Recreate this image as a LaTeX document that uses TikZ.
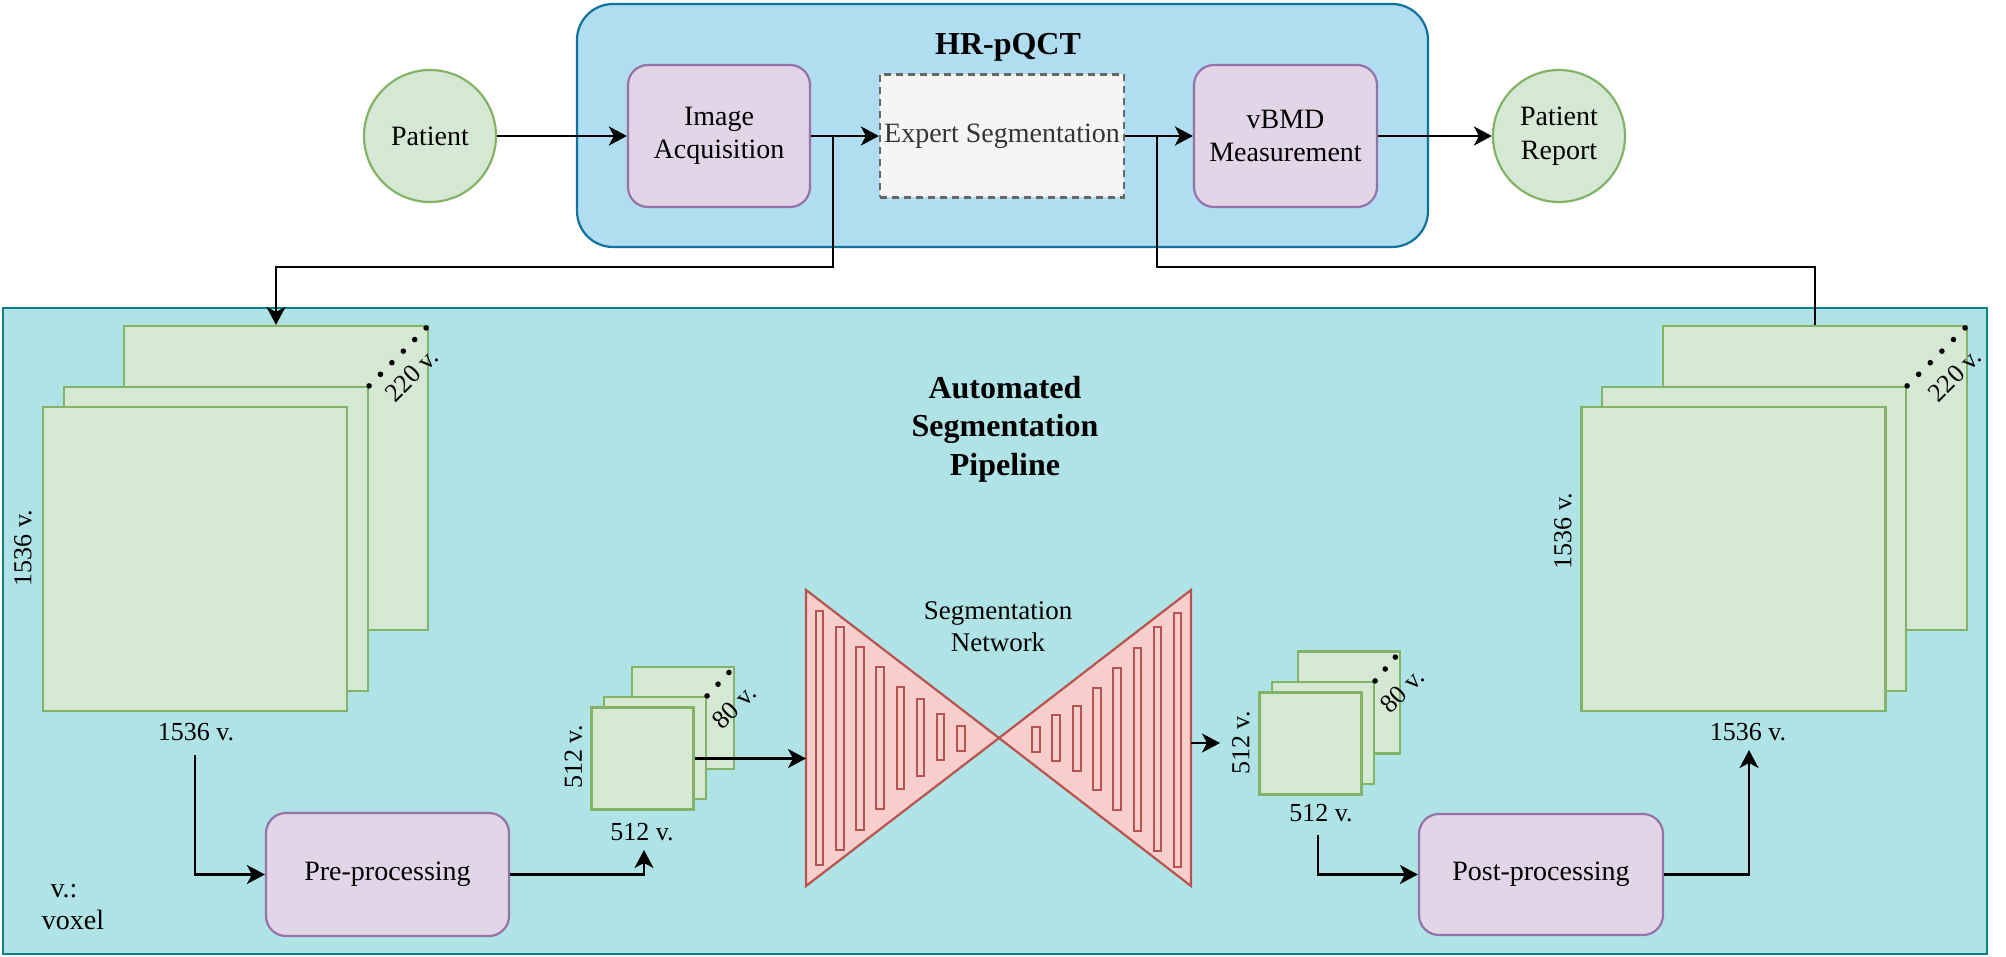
\documentclass[tikz,border=0pt]{standalone}
\usepackage{fontspec}
\setmainfont{Liberation Serif}
\usetikzlibrary{arrows.meta,calc}
\definecolor{grnF}{HTML}{D5E8D4}
\definecolor{grnD}{HTML}{82B366}
\definecolor{purF}{HTML}{E1D5E7}
\definecolor{purD}{HTML}{9673A6}
\definecolor{bluF}{HTML}{B1DDF0}
\definecolor{bluD}{HTML}{10739E}
\definecolor{tealF}{HTML}{B0E3E6}
\definecolor{tealD}{HTML}{0E8088}
\definecolor{redF}{HTML}{F8CECC}
\definecolor{redD}{HTML}{B85450}
\definecolor{gryF}{HTML}{F5F5F5}
\definecolor{gryD}{HTML}{666666}
\definecolor{gryT}{HTML}{333333}
\begin{document}
\begin{tikzpicture}[x=1pt,y=-1pt,
  txt/.style={font=\fontsize{28}{33.6}\selectfont, align=center, inner sep=0pt},
  lbl/.style={font=\fontsize{26}{31}\selectfont, inner sep=0pt},
  ttl/.style={font=\fontsize{32}{38.4}\selectfont\bfseries, align=center, inner sep=0pt},
  circ/.style={circle, draw=grnD, fill=grnF, line width=2.2pt, minimum size=132pt, txt},
  proc/.style={rectangle, rounded corners=20pt, draw=purD, fill=purF, line width=2.2pt, txt},
  expertbox/.style={rectangle, draw=gryD, fill=gryF, dash pattern=on 7pt off 5pt, line width=2.2pt, text=gryT, txt},
  sheet/.style={rectangle, draw=grnD, fill=grnF, line width=2.2pt, inner sep=0pt},
  bigsheet/.style={sheet, minimum size=304pt},
  smallsheet/.style={sheet, minimum size=102pt},
  bar/.style={draw=redD, fill=redF, line width=2pt},
  tri/.style={draw=redD, fill=redF, line width=2.2pt, line join=miter},
  conn/.style={line width=2.4pt, draw=black},
  arr/.style={conn, -{Stealth[length=18pt,width=19pt,inset=5pt]}},
]
\useasboundingbox (0,0) rectangle (2006,957);

% containers
\node[draw=tealD, fill=tealF, line width=2.2pt, minimum width=1984pt, minimum height=646pt, inner sep=0pt] (pipe) at (995,631) {};
\node[draw=bluD, fill=bluF, line width=2.2pt, rounded corners=36pt, minimum width=851pt, minimum height=243pt, inner sep=0pt] (hr) at (1002.5,125.5) {};
\node[ttl] (hrt) at (1008,47) {HR-pQCT};
\node[ttl] (pt) at (1005,429) {Automated\\Segmentation\\Pipeline};

% top row
\node[circ] (patient) at (430,136) {Patient};
\node[circ] (report) at (1559,136) {Patient\\Report};
\node[proc, minimum width=182pt, minimum height=142pt] (iacq) at (719,136) {Image\\Acquisition};
\node[expertbox, minimum width=244pt, minimum height=123pt] (expert) at (1002,136) {Expert Segmentation};
\node[proc, minimum width=183pt, minimum height=142pt] (vbmd) at (1285.5,136) {vBMD\\Measurement};

% left big stack
\node[bigsheet] (lback) at (276,478) {};
\node[bigsheet] (lmid) at (216,539) {};
\node[bigsheet] (lfront) at (195,559) {};
\foreach \i in {0,...,5} \fill[black] ($(lmid.north east)!\i*0.19!(lback.north east)$) circle (2.8pt);
\node[lbl, rotate=90] (lside) at (23,548) {1536 v.};
\node[lbl] (lbot) at (196,732) {1536 v.};
\node[lbl, rotate=45] (ldep) at (412,375) {220 v.};

% right big stack
\node[bigsheet] (rback) at (1815,478) {};
\node[bigsheet] (rmid) at (1754,539) {};
\node[bigsheet] (rfront) at (1733.5,559) {};
\foreach \i in {0,...,5} \fill[black] ($(rmid.north east)!\i*0.19!(rback.north east)$) circle (2.8pt);
\node[lbl, rotate=90] (rside) at (1563,531) {1536 v.};
\node[lbl] (rbot) at (1748,732) {1536 v.};
\node[lbl, rotate=45] (rdep) at (1955,375) {220 v.};

% left small stack
\node[smallsheet] (lsback) at (683,718) {};
\node[smallsheet] (lsmid) at (655,748) {};
\node[smallsheet] (lsfront) at (642.5,758.5) {};
\foreach \i in {0,1,2} \fill[black] ($(lsmid.north east)!\i*0.39!(lsback.north east)$) circle (2.8pt);
\node[lbl, rotate=90] (lsside) at (573.5,757) {512 v.};
\node[lbl] (lsbot) at (642,832) {512 v.};
\node[lbl, rotate=45] (lsdep) at (734,707) {80 v.};

% right small stack
\node[smallsheet] (rsback) at (1349,702.5) {};
\node[smallsheet] (rsmid) at (1323,733) {};
\node[smallsheet] (rsfront) at (1310.5,743.5) {};
\foreach \i in {0,1,2} \fill[black] ($(rsmid.north east)!\i*0.39!(rsback.north east)$) circle (2.8pt);
\node[lbl, rotate=90] (rsside) at (1241,743) {512 v.};
\node[lbl] (rsbot) at (1321,813) {512 v.};
\node[lbl, rotate=45] (rsdep) at (1402,691) {80 v.};

% network
\coordinate (nL1) at (806,590);
\coordinate (nL2) at (806,886);
\coordinate (nC) at (999,738);
\coordinate (nR1) at (1191,590);
\coordinate (nR2) at (1191,886);
\draw[tri] (nL1) -- (nC) -- (nL2) -- cycle;
\draw[tri] (nR1) -- (nC) -- (nR2) -- cycle;
\foreach \a/\b/\c/\d in {816/823/611/865, 836/844/627/850, 856/864/647/830, 876/884/667/809, 897/904/687/789, 917/924/699/776, 937/944/714/760, 957/965/726/751,
  1032/1040/727/752, 1052/1060/715/761, 1073/1081/706/771, 1093/1101/688/790, 1113/1121/668/810, 1134/1141/648/831, 1154/1161/627/851, 1174/1181/613/867}
  \draw[bar] (\a,\c) rectangle (\b,\d);
\node[txt, font=\fontsize{27}{32}\selectfont] (segnet) at (998,627) {Segmentation\\Network};

% processing boxes
\node[proc, minimum width=243pt, minimum height=123pt] (pre) at (387.5,874.5) {Pre-processing};
\node[proc, minimum width=244pt, minimum height=121pt] (post) at (1541,874.5) {Post-processing};

% legend
\node[txt, font=\fontsize{28}{32}\selectfont] (vox) at (73,907) {v.:\makebox[18pt]{}\\voxel};

% connectors
\coordinate (j1) at (833,136);
\coordinate (j2) at (1157,136);
\coordinate (c1) at (833,267);
\coordinate (c2) at (1157,267);
\draw[arr] (patient) -- (iacq);
\draw[arr] (iacq) -- (expert);
\draw[arr] (expert) -- (vbmd);
\draw[arr] (vbmd) -- (report);
\draw[arr] (j1) -- (c1) -| (lback.north);
\draw[conn] (j2) -- (c2) -| (rback.north);

\coordinate (a0) at (195,755);
\coordinate (a1) at (644,850);
\coordinate (a2) at (1220,743);
\coordinate (a3) at (1318,835);
\coordinate (a4) at (1749,750);
\coordinate (netout) at (1191,743);
\draw[arr] (a0) |- (pre.west);
\draw[arr] (pre.east) -| (a1);
\draw[arr] (lsfront.east) -- (lsfront.east -| nL1);
\draw[arr] (netout) -- (a2);
\draw[arr] (a3) |- (post.west);
\draw[arr] (post.east) -| (a4);
\end{tikzpicture}
\end{document}
